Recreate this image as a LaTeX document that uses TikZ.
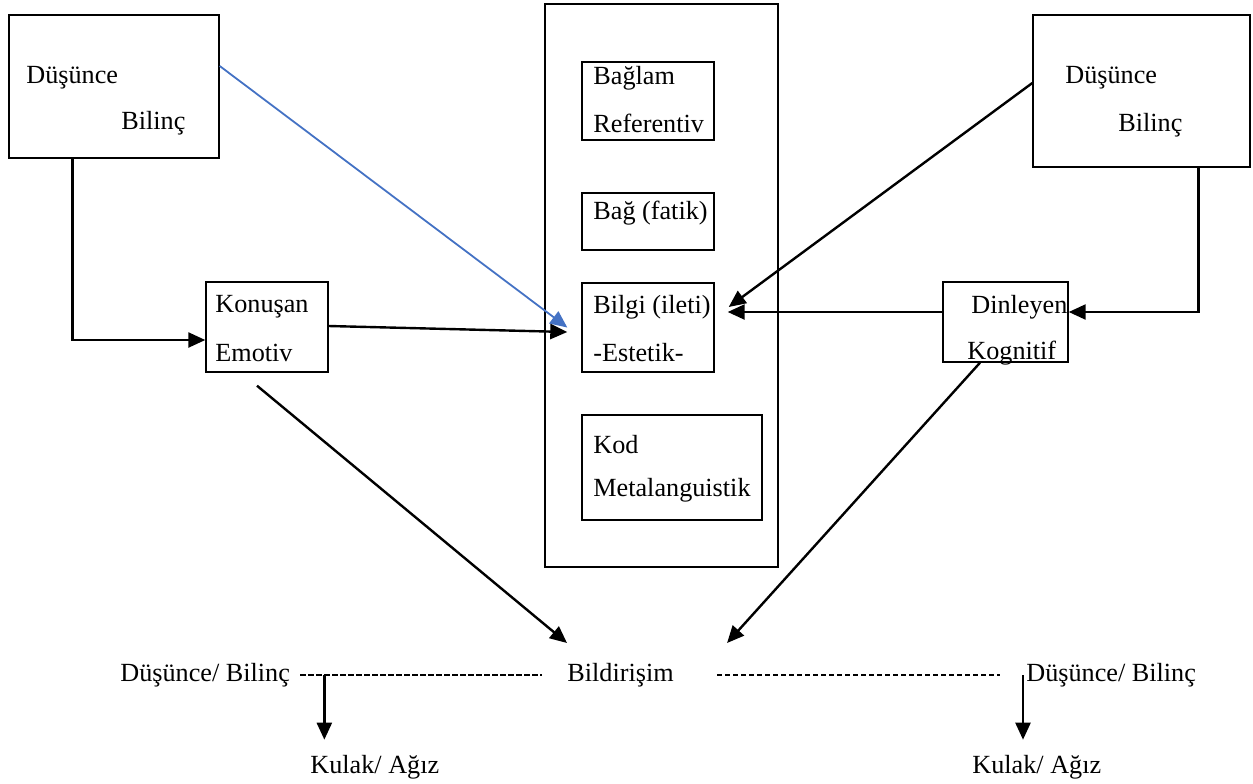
\documentclass[tikz,border=0pt]{standalone}
\usepackage{fontspec}
\setmainfont{Liberation Serif}
\usepackage{tikz}
\usetikzlibrary{arrows.meta, positioning}
\definecolor{wordblue}{RGB}{68,114,196}

\begin{document}
\begin{tikzpicture}[x=0.5pt, y=-0.5pt,
	every node/.style={font=\fontsize{13.1}{15}\selectfont},
	kutu/.style={draw, line width=0.7pt, inner sep=0pt},
	yazi/.style={anchor=west, inner sep=0pt},
	ok/.style={line width=1.2pt, -{Triangle[length=8.5pt,width=7.5pt]}},
	kesik/.style={line width=0.6pt, dash pattern=on 2.6pt off 1.4pt}]
				\useasboundingbox (0,0) rectangle (1253,783);
				%% kutular
				\node[kutu, minimum width=105pt, minimum height=71.5pt] (dl) at (114,86.5) {};
				\node[kutu, minimum width=108.5pt, minimum height=76pt] (dr) at (1141.5,91) {};
				\node[kutu, minimum width=116.5pt, minimum height=281.5pt] (kanal) at (661.5,285.5) {};
				\node[kutu, minimum width=66pt, minimum height=39pt] (baglam) at (648,101) {};
				\node[kutu, minimum width=66pt, minimum height=28.5pt] (bag) at (648,221.5) {};
				\node[kutu, minimum width=66pt, minimum height=44.5pt] (bilgi) at (648,327.5) {};
				\node[kutu, minimum width=90pt, minimum height=52.5pt] (kod) at (672,467.5) {};
				\node[kutu, minimum width=61pt, minimum height=45pt] (konusan) at (267,327) {};
				\node[kutu, minimum width=62.5pt, minimum height=40pt] (dinleyen) at (1005.5,322) {};
				
				%% yazilar
				\node[yazi] (dl1) at (26,78) {Düşünce};
				\node[yazi] (dl2) at (121,123) {Bilinç};
				\node[yazi] (dr1) at (1065,78) {Düşünce};
				\node[yazi] (dr2) at (1118,125) {Bilinç};
				\node[yazi] (baglam1) at (593,78) {Bağlam};
				\node[yazi] (baglam2) at (593,123) {Referentiv};
				\node[yazi] (bag1) at (593,213) {Bağ (fatik)};
				\node[yazi] (bilgi1) at (593,307) {Bilgi (ileti)};
				\node[yazi] (bilgi2) at (593,353) {-Estetik-};
				\node[yazi] (kod1) at (593,445) {Kod};
				\node[yazi] (kod2) at (593,490) {Metalanguistik};
				\node[yazi] (konusan1) at (215,307) {Konuşan};
				\node[yazi] (konusan2) at (215,353) {Emotiv};
				\node[yazi] (dinleyen1) at (971,307) {Dinleyen};
				\node[yazi] (dinleyen2) at (967,353) {Kognitif};
				
				\node[yazi] (solbil) at (120,675) {Düşünce/ Bilinç};
				\node[yazi] (bildirim) at (567,675) {Bildirişim};
				\node[yazi] (sagbil) at (1026,675) {Düşünce/ Bilinç};
				\node[yazi] (kulak1) at (310,767) {Kulak/ Ağız};
				\node[yazi] (kulak2) at (972,767) {Kulak/ Ağız};
				
				%% oklar
				\draw[ok] ([xshift=32pt]dl.south west) |- ([yshift=-6.5pt]konusan.west);
				\draw[ok] ([xshift=83pt]dr.south west) |- ([yshift=5pt]dinleyen.east);
				\draw[ok, wordblue, line width=0.9pt] ([yshift=10.25pt]dl.east) -- ([xshift=-7pt]bilgi.west);
				\draw[ok] ([yshift=0.5pt]konusan.east) -- ([xshift=-7pt,yshift=-2.25pt]bilgi.west);
				\draw[ok] ([yshift=4pt]dr.west) -- ([xshift=7pt,yshift=10.25pt]bilgi.east);
				\draw[ok] ([yshift=5pt]dinleyen.west) -- ([xshift=6.5pt,yshift=7.75pt]bilgi.east);
				\draw[ok] ([xshift=-5pt,yshift=-6.5pt]konusan.south) -- ([yshift=16pt]bildirim.west);
				\draw[ok] ([xshift=-12.75pt]dinleyen.south) -- ([xshift=26.5pt,yshift=16pt]bildirim.east);
				
				%% kesik cizgiler
				\draw[kesik, shorten <=5pt, shorten >=12.5pt] (solbil.east) -- (bildirim.west);
				\draw[kesik, shorten <=21.5pt, shorten >=13pt] (bildirim.east) -- (sagbil.west);
				\coordinate (ayrim1) at ([xshift=17pt]solbil.east);
				\coordinate (ayrim2) at ([xshift=-1.5pt]sagbil.west);
				\draw[ok, shorten >=7.5pt] (ayrim1) -- (ayrim1 |- kulak1.north);
				\draw[ok, shorten >=7.5pt] (ayrim2) -- (ayrim2 |- kulak2.north);
\end{tikzpicture}
\end{document}
